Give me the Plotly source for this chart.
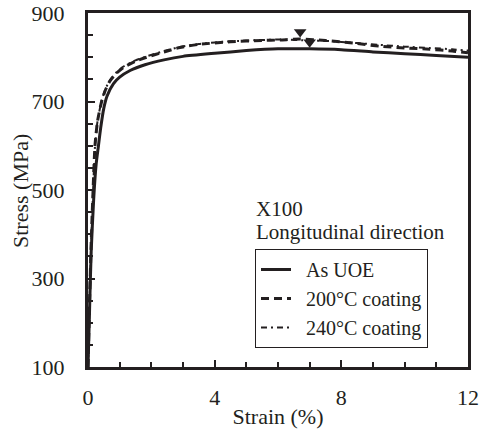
import plotly.graph_objects as go

# As UOE (solid)
uoe_strain = [0, 0.05, 0.1, 0.18, 0.26, 0.33, 0.4, 0.5, 0.6, 0.8, 1.0, 1.33, 1.8, 2.4, 3.0, 4.0, 5.0, 6.0, 7.0, 8.0, 9.0, 10.0, 11.0, 12.0]
uoe_stress = [100, 230, 360, 480, 560, 600, 640, 685, 712, 740, 755, 770, 783, 794, 802, 809, 815, 819, 819, 817, 812, 808, 804, 800]

# 200°C coating (dashed)
c200_strain = [0, 0.05, 0.1, 0.15, 0.22, 0.3, 0.43, 0.55, 0.69, 0.9, 1.12, 1.5, 1.85, 2.4, 2.9, 3.5, 4.5, 5.5, 6.06, 6.7, 7.5, 8.5, 9.2, 10.0, 10.8, 11.5, 12.0]
c200_stress = [100, 250, 380, 480, 600, 655, 700, 726, 746, 764, 777, 791, 800, 812, 822, 829, 835, 838, 839, 841, 838, 831, 825, 821, 818, 814, 810]

# 240°C coating (dash-dot)
c240_strain = [0, 0.05, 0.1, 0.15, 0.22, 0.3, 0.43, 0.55, 0.69, 0.9, 1.12, 1.5, 1.85, 2.4, 2.9, 3.5, 4.5, 5.5, 6.06, 7.0, 7.5, 8.5, 9.2, 10.0, 10.8, 11.5, 12.0]
c240_stress = [100, 245, 375, 478, 598, 655, 702, 728, 748, 766, 779, 793, 802, 814, 823, 830, 836, 839, 840, 838, 837, 832, 828, 824, 821, 818, 815]

# triangle markers
mark_strain = [6.7, 7.0]
mark_stress = [857, 834]

x_ticks = [0, 4, 8, 12]
y_ticks = [100, 300, 500, 700, 900]

FONT = "Liberation Serif, Times New Roman, serif"
INK = "#231f20"
FS = 22
NB = "\u00a0\u00a0"

fig = go.Figure()
fig.add_trace(go.Scatter(x=uoe_strain, y=uoe_stress, mode="lines", name=NB + "As UOE",
                         line=dict(color=INK, width=3, dash="solid", shape="spline", smoothing=0.6)))
fig.add_trace(go.Scatter(x=c200_strain, y=c200_stress, mode="lines", name=NB + "200°C coating",
                         line=dict(color=INK, width=3, dash="8px,5px", shape="spline", smoothing=0.6)))
fig.add_trace(go.Scatter(x=c240_strain, y=c240_stress, mode="lines", name=NB + "240°C coating",
                         line=dict(color=INK, width=2, dash="6px,4px,2px,4px", shape="spline", smoothing=0.6)))
fig.add_trace(go.Scatter(x=mark_strain, y=mark_stress, mode="markers", showlegend=False,
                         marker=dict(symbol="triangle-down", size=11, color=INK)))

fig.add_annotation(x=(254 - 88) / 380, y=(367 - 209) / 354, xref="paper", yref="paper",
                   text="X100", showarrow=False, xanchor="left", yanchor="middle",
                   font=dict(family=FONT, size=21, color=INK))
fig.add_annotation(x=(254 - 88) / 380, y=(367 - 232) / 354, xref="paper", yref="paper",
                   text="Longitudinal direction", showarrow=False, xanchor="left", yanchor="middle",
                   font=dict(family=FONT, size=21, color=INK))
# y-axis title
fig.add_annotation(x=(21 - 88) / 380, y=(367 - 191) / 354, xref="paper", yref="paper",
                   text="Stress (MPa)", showarrow=False, textangle=-90,
                   xanchor="center", yanchor="middle",
                   font=dict(family=FONT, size=FS, color=INK))

axis_common = dict(showline=True, linecolor=INK, linewidth=3, mirror=True, showgrid=False,
                   zeroline=False, ticks="inside", tickcolor=INK, tickwidth=1.5, ticklen=7,
                   automargin=False, tickfont=dict(family=FONT, size=FS, color=INK))

fig.update_xaxes(range=[0, 12], tickvals=x_ticks, ticktext=[str(v) for v in x_ticks],
                 minor=dict(dtick=1, tick0=0, ticks="inside", ticklen=5, tickcolor=INK, tickwidth=1.5, showgrid=False),
                 title=dict(text="Strain (%)", font=dict(family=FONT, size=FS, color=INK), standoff=0),
                 ticklabelstandoff=9, **axis_common)
fig.update_yaxes(range=[100, 900], tickvals=y_ticks, ticktext=[str(v) for v in y_ticks],
                 minor=dict(dtick=50, tick0=100, ticks="inside", ticklen=5, tickcolor=INK, tickwidth=1.5, showgrid=False),
                 ticklabelstandoff=16, **axis_common)

fig.update_layout(
    width=483, height=436,
    margin=dict(l=88, r=15, t=13, b=69),
    paper_bgcolor="white", plot_bgcolor="white",
    font=dict(family=FONT, size=FS, color=INK),
    legend=dict(x=(255 - 88) / 380, y=(367 - 249) / 354, xanchor="left", yanchor="top",
                bordercolor=INK, borderwidth=1, bgcolor="white",
                font=dict(family=FONT, size=20, color=INK), tracegroupgap=0,
                itemwidth=30),
)

fig.write_html("out.html")
